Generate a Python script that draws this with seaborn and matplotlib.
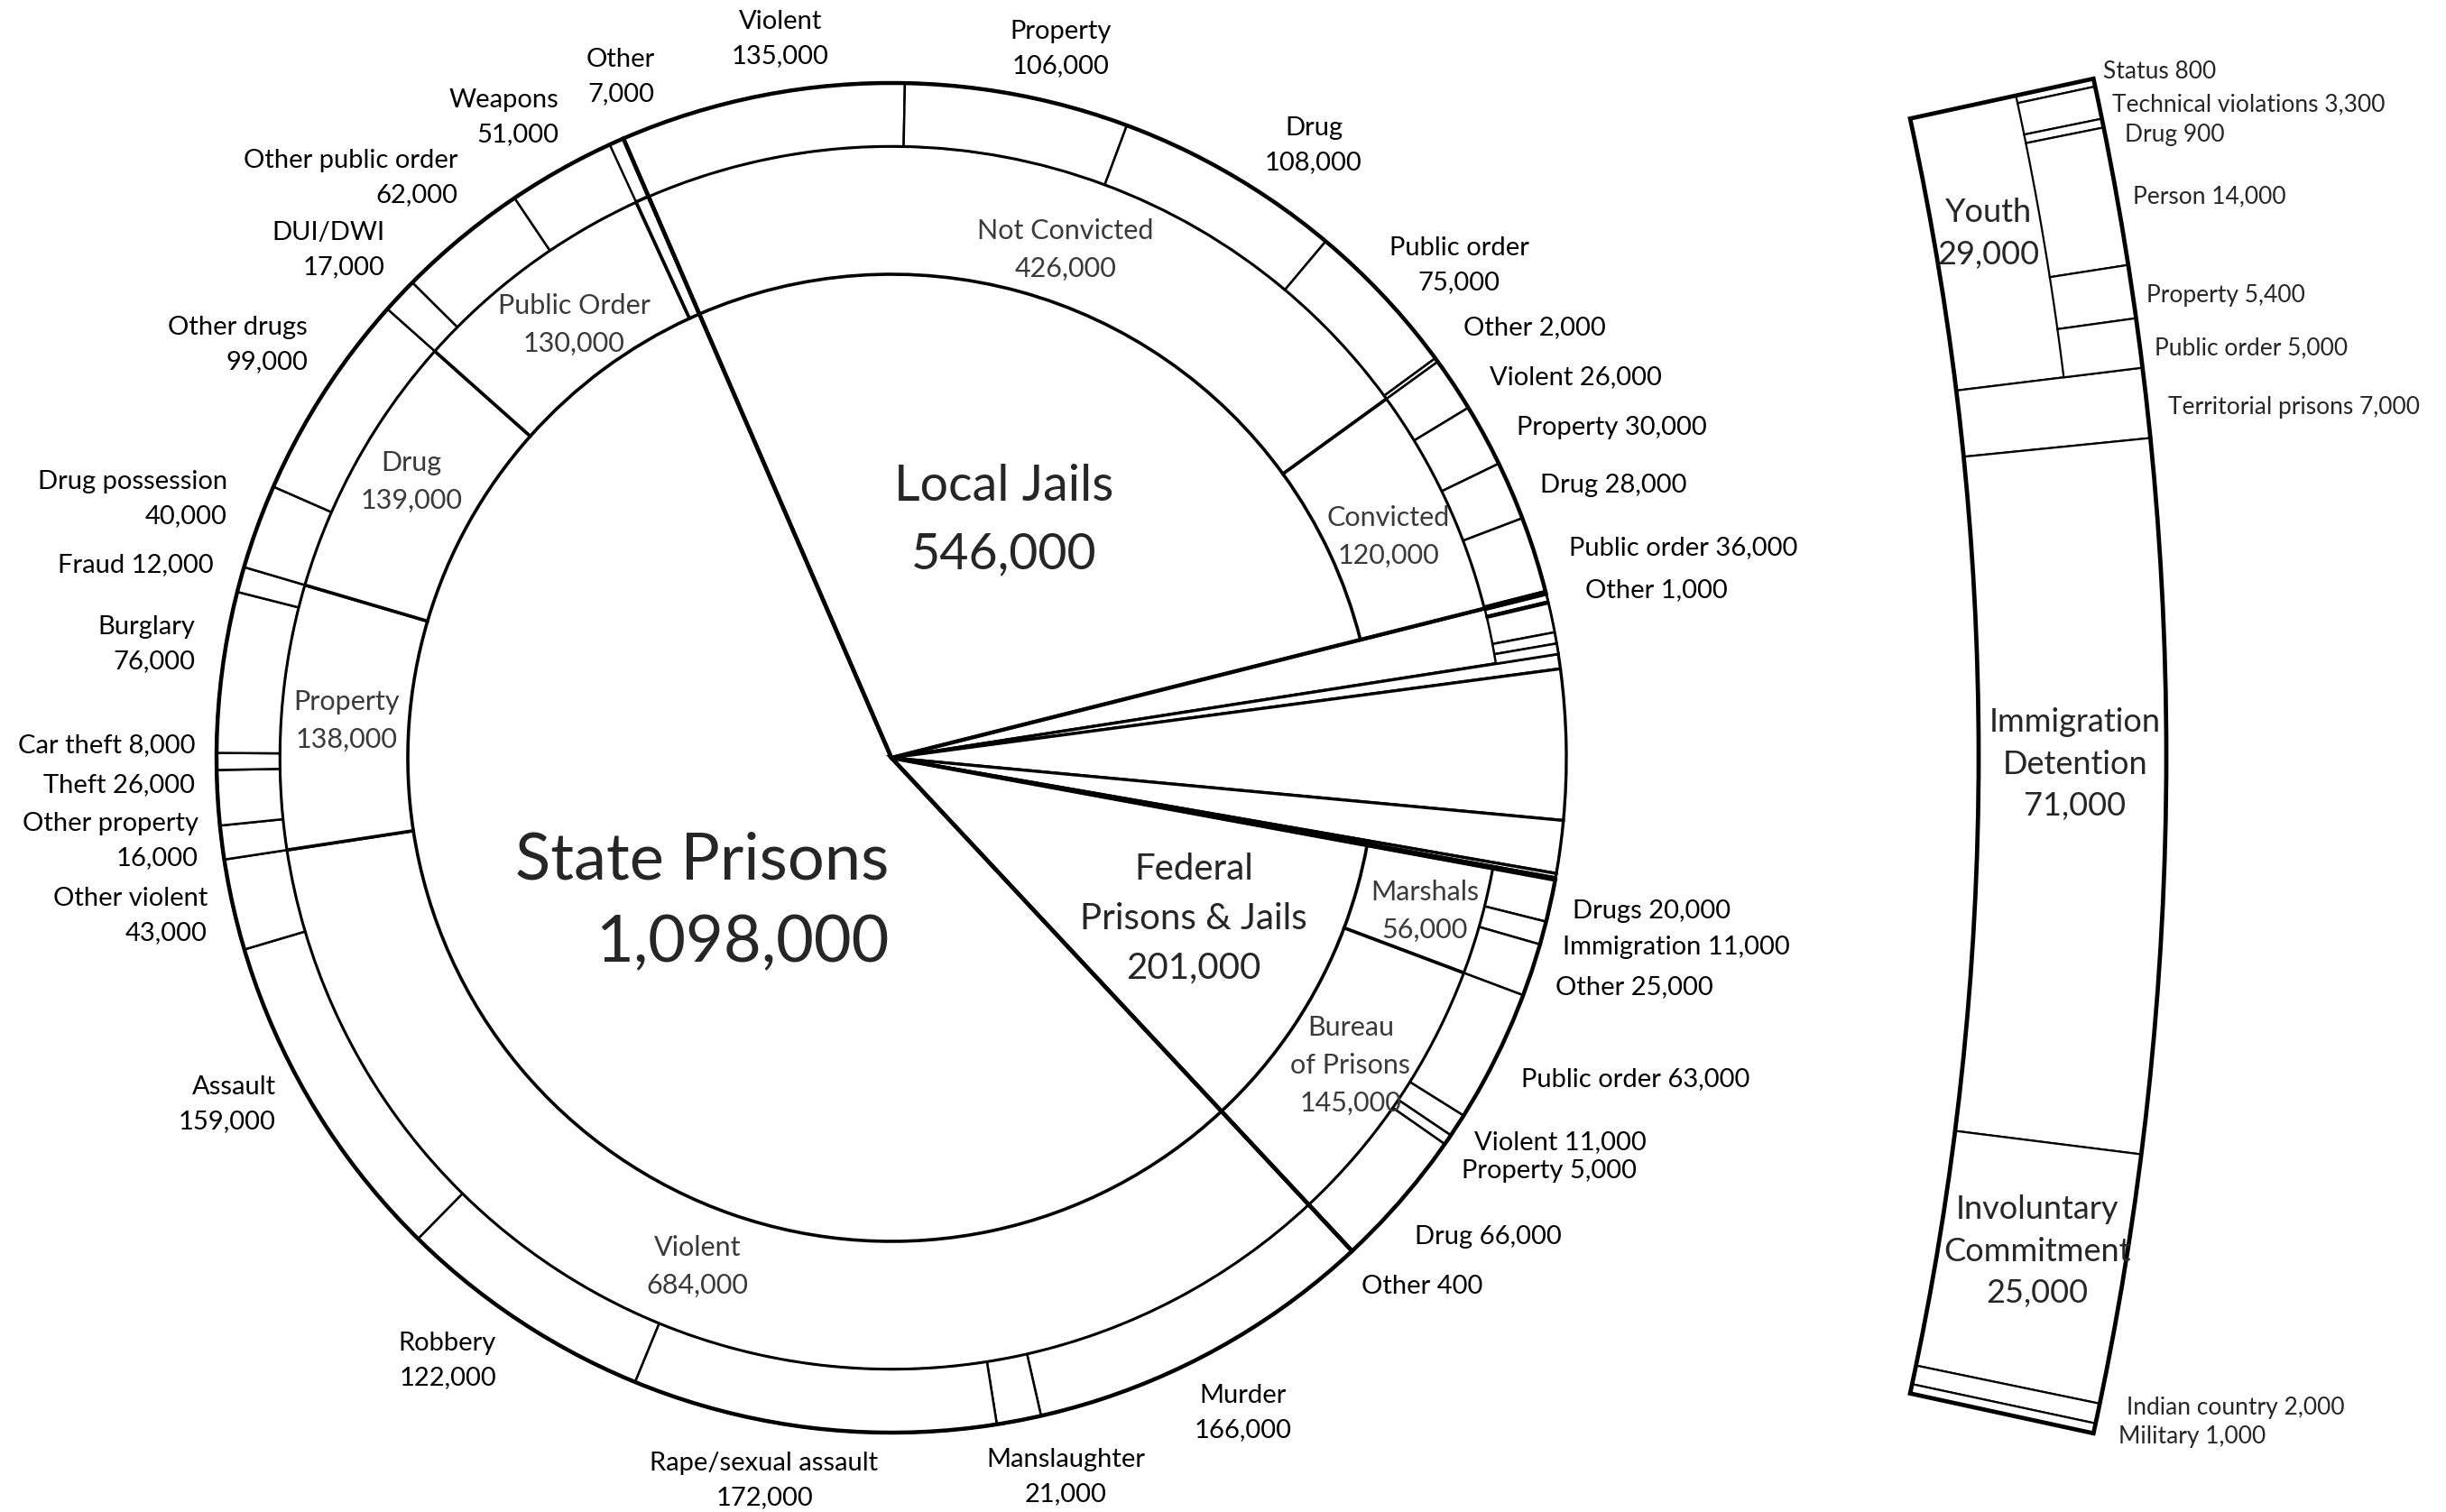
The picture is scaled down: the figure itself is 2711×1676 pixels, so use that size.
import matplotlib
matplotlib.use("Agg")
import matplotlib.pyplot as plt
import seaborn as sns

# ---- data (clockwise order, starting at the State/Local boundary) ----
top_labels = ["Local Jails", "Youth", "Territorial prisons", "Immigration Detention",
              "Involuntary Commitment", "Indian country", "Military",
              "Federal Prisons & Jails", "State Prisons"]
top_values = [546000, 29000, 7000, 71000, 25000, 2000, 1000, 201000, 1098000]

jail_mid_labels = ["Not Convicted", "Convicted"]
jail_mid = [426000, 120000]
fed_mid_labels = ["Marshals", "Bureau of Prisons"]
fed_mid = [56000, 145000]
state_mid_labels = ["Violent", "Property", "Drug", "Public Order", "Other"]
state_mid = [684000, 138000, 139000, 130000, 7000]

jail_nc_labels = ["Violent", "Property", "Drug", "Public order", "Other"]
jail_nc = [135000, 106000, 108000, 75000, 2000]
jail_c_labels = ["Violent", "Property", "Drug", "Public order", "Other"]
jail_c = [26000, 30000, 28000, 36000, 1000]
youth_labels = ["Status", "Technical violations", "Drug", "Person", "Property", "Public order"]
youth = [800, 3300, 900, 14000, 5400, 5000]
marshals_labels = ["Drugs", "Immigration", "Other"]
marshals = [20000, 11000, 25000]
bop_labels = ["Public order", "Violent", "Property", "Drug", "Other"]
bop = [63000, 11000, 5000, 66000, 400]
st_violent_labels = ["Murder", "Manslaughter", "Rape/sexual assault", "Robbery", "Assault", "Other violent"]
st_violent = [166000, 21000, 172000, 122000, 159000, 43000]
st_property_labels = ["Other property", "Theft", "Car theft", "Burglary", "Fraud"]
st_property = [16000, 26000, 8000, 76000, 12000]
st_drug_labels = ["Drug possession", "Other drugs"]
st_drug = [40000, 99000]
st_public_labels = ["DUI/DWI", "Other public order", "Weapons"]
st_public = [17000, 62000, 51000]

W, H = 2711, 1676
CX, CY = 988, H - 840
R_OUT, R_MID, R_IN = 748, 678, 536
START = 113.4

sns.set_theme(style="white")
plt.rcParams['font.family'] = ['Lato', 'DejaVu Sans']


def fit(vals, total):
    s = sum(vals)
    return [v * total / s for v in vals]


def ring(ax, vals, show, radius, width, lw, center, start, fc='white'):
    wedges, _ = ax.pie(vals, radius=radius, center=center, startangle=start,
                       counterclock=False,
                       wedgeprops=dict(width=width, edgecolor='black',
                                       linewidth=lw, facecolor=fc))
    for w, s in zip(wedges, show):
        w.set_visible(s)
    return wedges


fig = plt.figure(figsize=(W / 100, H / 100), dpi=100)
ax = fig.add_axes([0, 0, 1, 1])

small = top_values[1:7]
hidden_small = [False] * len(small)

# level A: whole pie
ring(ax, top_values, [True] * len(top_values), R_OUT, R_OUT, 2.4, (CX, CY), START)

# level B: middle ring
mid_vals = jail_mid + small + fed_mid + state_mid
mid_show = [True] * 2 + hidden_small + [True] * 2 + [True] * 5
ring(ax, mid_vals, mid_show, R_MID, R_MID - R_IN, 2.6, (CX, CY), START)

# level C: outer ring
out_vals = (fit(jail_nc, jail_mid[0]) + fit(jail_c, jail_mid[1]) +
            fit(youth, small[0]) + small[1:] +
            marshals + fit(bop, fed_mid[1]) +
            fit(st_violent, state_mid[0]) + st_property + st_drug + st_public + [state_mid[4]])
out_show = ([True] * 10 + [True] * 6 + [False] * 5 + [True] * 8 +
            [True] * 6 + [True] * 5 + [True] * 2 + [True] * 3 + [False])
ring(ax, out_vals, out_show, R_OUT, R_OUT - R_MID, 1.8, (CX, CY), START)

# main category boundaries drawn heavier on top
ring(ax, [top_values[0], sum(small), top_values[7], top_values[8]],
     [True, False, True, True], R_OUT, R_OUT, 3.2, (CX, CY), START, fc='none')

# ---- magnified band on the right ----
BCX, BCY = -1131, H - 838
B_IN, B_OUT, B_MID = 3324, 3532, 3444
rest = top_values[0] + top_values[7] + top_values[8]
b_start = 360 * sum(small) / sum(top_values) / 2
ring(ax, small + [rest], [True] * 6 + [False], B_OUT, B_OUT - B_IN, 1.6, (BCX, BCY), b_start)
ring(ax, fit(youth, small[0]) + small[1:] + [rest], [True] * 6 + [False] * 6,
     B_OUT, B_OUT - B_MID, 1.6, (BCX, BCY), b_start)
ring(ax, [sum(small), rest], [True, False], B_OUT, B_OUT - B_IN, 3.4, (BCX, BCY),
     b_start, fc='none')

ax.set_xlim(0, W)
ax.set_ylim(0, H)
ax.set_aspect('equal')
ax.axis('off')

# ---- labels: (text, x, y in image pixels, ha) ----
outer_labels = [
    ("Other\n7,000", 688, 85, 'center'),
    ("Weapons\n51,000", 619, 130, 'right'),
    ("Other public order\n62,000", 507, 197, 'right'),
    ("DUI/DWI\n17,000", 427, 277, 'right'),
    ("Other drugs\n99,000", 341, 382, 'right'),
    ("Drug possession\n40,000", 252, 553, 'right'),
    ("Fraud 12,000", 237, 626, 'right'),
    ("Burglary\n76,000", 216, 714, 'right'),
    ("Car theft 8,000", 216, 826, 'right'),
    ("Theft 26,000", 216, 870, 'right'),
    ("Other property\n16,000", 220, 932, 'right'),
    ("Other violent\n43,000", 230, 1015, 'right'),
    ("Assault\n159,000", 306, 1224, 'right'),
    ("Robbery\n122,000", 550, 1508, 'right'),
    ("Rape/sexual assault\n172,000", 847, 1641, 'center'),
    ("Manslaughter\n21,000", 1181, 1637, 'center'),
    ("Murder\n166,000", 1378, 1566, 'center'),
    ("Violent\n135,000", 865, 43, 'center'),
    ("Property\n106,000", 1176, 54, 'center'),
    ("Drug\n108,000", 1456, 161, 'center'),
    ("Public order\n75,000", 1617, 294, 'center'),
    ("Other 2,000", 1622, 363, 'left'),
    ("Violent 26,000", 1651, 418, 'left'),
    ("Property 30,000", 1681, 474, 'left'),
    ("Drug 28,000", 1707, 538, 'left'),
    ("Public order 36,000", 1739, 607, 'left'),
    ("Other 1,000", 1757, 654, 'left'),
    ("Drugs 20,000", 1743, 1010, 'left'),
    ("Immigration 11,000", 1732, 1050, 'left'),
    ("Other 25,000", 1724, 1094, 'left'),
    ("Public order 63,000", 1686, 1196, 'left'),
    ("Violent 11,000", 1634, 1266, 'left'),
    ("Property 5,000", 1620, 1298, 'left'),
    ("Drug 66,000", 1568, 1371, 'left'),
    ("Other 400", 1509, 1426, 'left'),
]
for t, x, y, ha in outer_labels:
    ax.text(x, H - y, t, ha=ha, va='center', multialignment=ha, fontsize=21,
            color='black', linespacing=1.6)

mid_text = [
    ("Public Order\n130,000", 636, 360),
    ("Drug\n139,000", 456, 534),
    ("Property\n138,000", 384, 799),
    ("Violent\n684,000", 773, 1404),
    ("Not Convicted\n426,000", 1181, 277),
    ("Convicted\n120,000", 1539, 595),
    ("Marshals\n56,000", 1579, 1010),
    ("Bureau\nof Prisons\n145,000", 1497, 1181),
]
for t, x, y in mid_text:
    ax.text(x, H - y, t, ha='center', va='center', fontsize=22, color='#3a3a3a',
            linespacing=1.6)

ax.text(1113, H - 577, "Local Jails\n546,000", ha='center', va='center',
        fontsize=40, linespacing=1.6)
ax.text(985, H - 1000, "State Prisons\n1,098,000", ha='right', va='center',
        multialignment='right', fontsize=52, linespacing=1.5)
ax.text(1323, H - 1018, "Federal\nPrisons & Jails\n201,000", ha='center', va='center',
        fontsize=29, linespacing=1.6)

band_text = [
    ("Youth\n29,000", 2204, 259),
    ("Immigration\nDetention\n71,000", 2300, 847),
    ("Involuntary\nCommitment\n25,000", 2258, 1387),
]
for t, x, y in band_text:
    ax.text(x, H - y, t, ha='center', va='center', fontsize=26, linespacing=1.5)

band_side = [
    ("Status 800", 2331, 80),
    ("Technical violations 3,300", 2341, 116),
    ("Drug 900", 2355, 149),
    ("Person 14,000", 2364, 218),
    ("Property 5,400", 2379, 327),
    ("Public order 5,000", 2388, 386),
    ("Territorial prisons 7,000", 2403, 451),
    ("Indian country 2,000", 2357, 1560),
    ("Military 1,000", 2348, 1592),
]
for t, x, y in band_side:
    ax.text(x, H - y, t, ha='left', va='center', fontsize=19)

fig.savefig("out.png", dpi=100, facecolor='white')
